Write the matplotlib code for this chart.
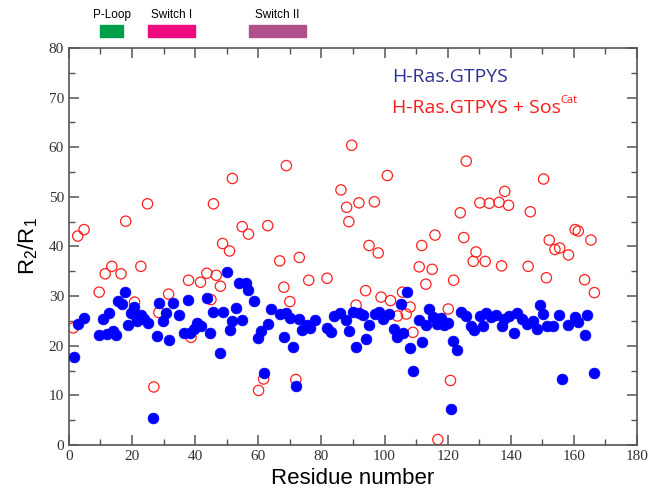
import numpy as np
import matplotlib
matplotlib.use('Agg')
import matplotlib.pyplot as plt
from matplotlib.ticker import MultipleLocator

# H-Ras.GTPYS (filled blue)
blue_x = [1.6, 3.0, 4.8, 9.6, 10.7, 12.0, 12.8, 13.9, 14.9, 15.7, 16.8, 17.9, 18.7, 19.6,
          20.6, 21.1, 21.7, 23.0, 23.8, 25.1, 26.7, 27.8, 28.7, 29.9, 30.8, 31.6, 32.9, 35.0,
          36.5, 37.8, 38.4, 39.7, 40.7, 41.8, 43.6, 44.7, 45.8, 47.9, 48.8, 50.0, 50.9, 51.7,
          52.9, 53.9, 55.0, 56.0, 56.9, 58.8, 60.0, 60.9, 61.9, 63.1, 63.9, 66.8, 68.0, 68.9,
          70.0, 71.0, 72.0, 72.9, 73.9, 75.3, 76.3, 78.1, 81.8, 83.1, 83.9, 85.9, 87.8, 88.8,
          90.0, 91.1, 92.0, 93.3, 94.0, 95.2, 96.9, 98.2, 99.6, 101.3, 102.9, 104.0, 105.1,
          106.0, 107.0, 108.0, 108.9, 111.0, 111.8, 113.2, 114.0, 115.3, 116.6, 118.0, 119.0,
          120.0, 121.2, 121.8, 123.0, 124.1, 125.7, 127.3, 128.3, 130.2, 131.3, 132.1, 133.7,
          135.3, 137.1, 137.9, 139.5, 141.1, 142.1, 143.7, 145.3, 146.9, 148.3, 149.2, 150.3,
          151.5, 153.3, 155.4, 156.2, 158.2, 160.4, 161.4, 163.5, 164.2, 166.5]
blue_y = [17.7, 24.4, 25.6, 22.1, 25.3, 22.3, 26.7, 22.9, 22.1, 29.0, 28.5, 30.8, 24.2, 26.5,
          27.9, 26.2, 25.0, 26.2, 25.3, 24.5, 5.5, 21.9, 28.7, 25.0, 26.7, 21.2, 28.7, 26.1,
          22.6, 29.2, 22.5, 23.3, 24.5, 24.0, 29.7, 22.6, 26.9, 18.5, 26.8, 34.9, 23.2, 25.0,
          27.7, 32.6, 25.2, 32.7, 31.3, 29.1, 21.5, 23.0, 14.5, 24.3, 27.4, 26.3, 21.8, 26.5,
          25.5, 19.8, 11.9, 25.4, 23.2, 24.1, 23.6, 25.1, 23.5, 22.8, 26.0, 26.6, 25.2, 22.9,
          26.8, 19.8, 26.6, 26.2, 21.3, 24.1, 26.3, 26.9, 25.3, 26.3, 23.4, 21.8, 28.4,
          22.6, 30.8, 19.6, 15.0, 25.1, 20.8, 24.1, 27.4, 25.8, 24.4, 25.6, 24.1,
          24.6, 7.3, 21.0, 19.1, 26.9, 26.0, 24.0, 23.1, 26.0, 24.0, 26.7, 25.7,
          26.2, 23.9, 25.3, 26.0, 22.5, 26.7, 25.3, 24.3, 24.9, 23.3, 28.2, 26.3,
          23.9, 23.9, 26.2, 13.3, 24.1, 25.7, 24.7, 22.2, 26.2, 14.5]

# H-Ras.GTPYS + SosCat (open red)
red_x = [1.4, 2.8, 4.8, 9.6, 11.5, 13.6, 16.5, 18.0, 20.8, 22.8, 24.9, 26.9, 28.5, 31.6, 37.9,
         38.7, 41.7, 43.7, 45.0, 45.8, 46.7, 48.0, 48.7, 50.9, 51.8, 54.9, 56.9, 60.1, 61.7,
         63.0, 66.8, 68.1, 68.9, 70.0, 71.9, 73.0, 76.0, 81.8, 86.2, 88.0, 88.7, 89.6, 91.9,
         91.0, 94.0, 95.1, 96.8, 98.0, 98.9, 100.9, 101.9, 104.1, 105.7, 106.9, 108.1, 109.0,
         111.0, 111.8, 113.1, 115.1, 116.0, 116.9, 120.2, 120.9, 121.9, 124.0, 125.1, 125.9,
         128.1, 129.0, 130.2, 131.9, 133.2, 136.3, 137.1, 138.1, 139.3, 145.5, 146.2, 150.4,
         151.3, 152.2, 154.0, 155.5, 158.3, 160.4, 161.4, 163.4, 165.4, 166.5]
red_y = [23.6, 42.1, 43.4, 30.8, 34.5, 36.0, 34.5, 45.1, 28.8, 36.0, 48.6, 11.7, 26.7, 30.4, 33.2,
         21.7, 32.8, 34.6, 29.3, 48.6, 34.2, 32.0, 40.6, 39.1, 53.7, 44.0, 42.5, 11.0, 13.3,
         44.2, 37.1, 31.8, 56.3, 28.9, 13.2, 37.8, 33.2, 33.6, 51.4, 47.9, 45.0, 60.4, 48.8,
         28.2, 31.1, 40.2, 49.0, 38.7, 29.8, 54.3, 29.1, 26.0, 30.8, 26.4, 27.8, 22.7,
         35.9, 40.2, 32.4, 35.4, 42.3, 1.1, 27.4, 13.0, 33.2, 46.8, 41.8, 57.2,
         37.0, 38.9, 48.8, 37.0, 48.7, 48.9, 36.1, 51.1, 48.3, 36.0, 47.0, 53.6,
         33.7, 41.3, 39.4, 39.7, 38.3, 43.4, 43.1, 33.3, 41.3, 30.7]

# structural regions drawn above the plot
regions = ['P-Loop', 'Switch I', 'Switch II']
region_start = [10, 25, 57]
region_end = [17, 40, 75]
region_colors = ['#00a04a', '#ee0a80', '#b0508a']

plt.rcParams['mathtext.default'] = 'regular'

fig = plt.figure(figsize=(6.5, 4.92), dpi=100)
ax = fig.add_axes([0.106, 0.0955, 0.874, 0.807])

ax.scatter(blue_x, blue_y, s=60, color='#0000ff', edgecolors='#0000ff', linewidths=0.5, zorder=3)
ax.scatter(red_x, red_y, s=55, facecolors='none', edgecolors='#ff2020', linewidths=0.9, zorder=2)

ax.set_xlim(0, 180)
ax.set_ylim(0, 80)
ax.xaxis.set_major_locator(MultipleLocator(20))
ax.xaxis.set_minor_locator(MultipleLocator(10))
ax.yaxis.set_major_locator(MultipleLocator(10))
ax.yaxis.set_minor_locator(MultipleLocator(5))
ax.tick_params(which='both', direction='in', top=True, right=True, color='#555555')
ax.tick_params(which='major', length=7, width=1.1)
ax.tick_params(which='minor', length=4, width=1.0)
for lab in ax.get_xticklabels() + ax.get_yticklabels():
    lab.set_fontfamily('Liberation Serif')
    lab.set_fontsize(11)
    lab.set_color('#333333')
for sp in ax.spines.values():
    sp.set_color('#555555')
    sp.set_linewidth(1.2)

ax.set_xlabel('Residue number', fontsize=16, fontfamily='Liberation Sans', labelpad=4)
ax.set_ylabel('R$_2$/R$_1$', fontsize=16, fontfamily='Liberation Sans', labelpad=6)

ax.text(102.5, 74.2, 'H-Ras.GTPYS', color='#2e3192', fontsize=14,
        fontfamily='Open Sans', va='center', ha='left')
t2 = ax.text(102.5, 68.0, 'H-Ras.GTPYS + Sos', color='#ff1a1a', fontsize=14,
             fontfamily='Open Sans', va='center', ha='left')
fig.canvas.draw()
bb = t2.get_window_extent()
x_end, y_top = ax.transData.inverted().transform((bb.x1, bb.y1))
ax.text(x_end - 0.2, y_top - 0.4, 'Cat', color='#ff1a1a', fontsize=8,
        fontfamily='Open Sans', va='center', ha='left')

for name, x0, x1, c in zip(regions, region_start, region_end, region_colors):
    ax.add_patch(plt.Rectangle((x0, 82.3), x1 - x0, 2.4, color=c, clip_on=False))
    ax.text((x0 + x1) / 2, 85.4, name, ha='center', va='bottom', fontsize=8.5,
            fontfamily='Liberation Sans', clip_on=False)

fig.savefig('out.png', dpi=100)
